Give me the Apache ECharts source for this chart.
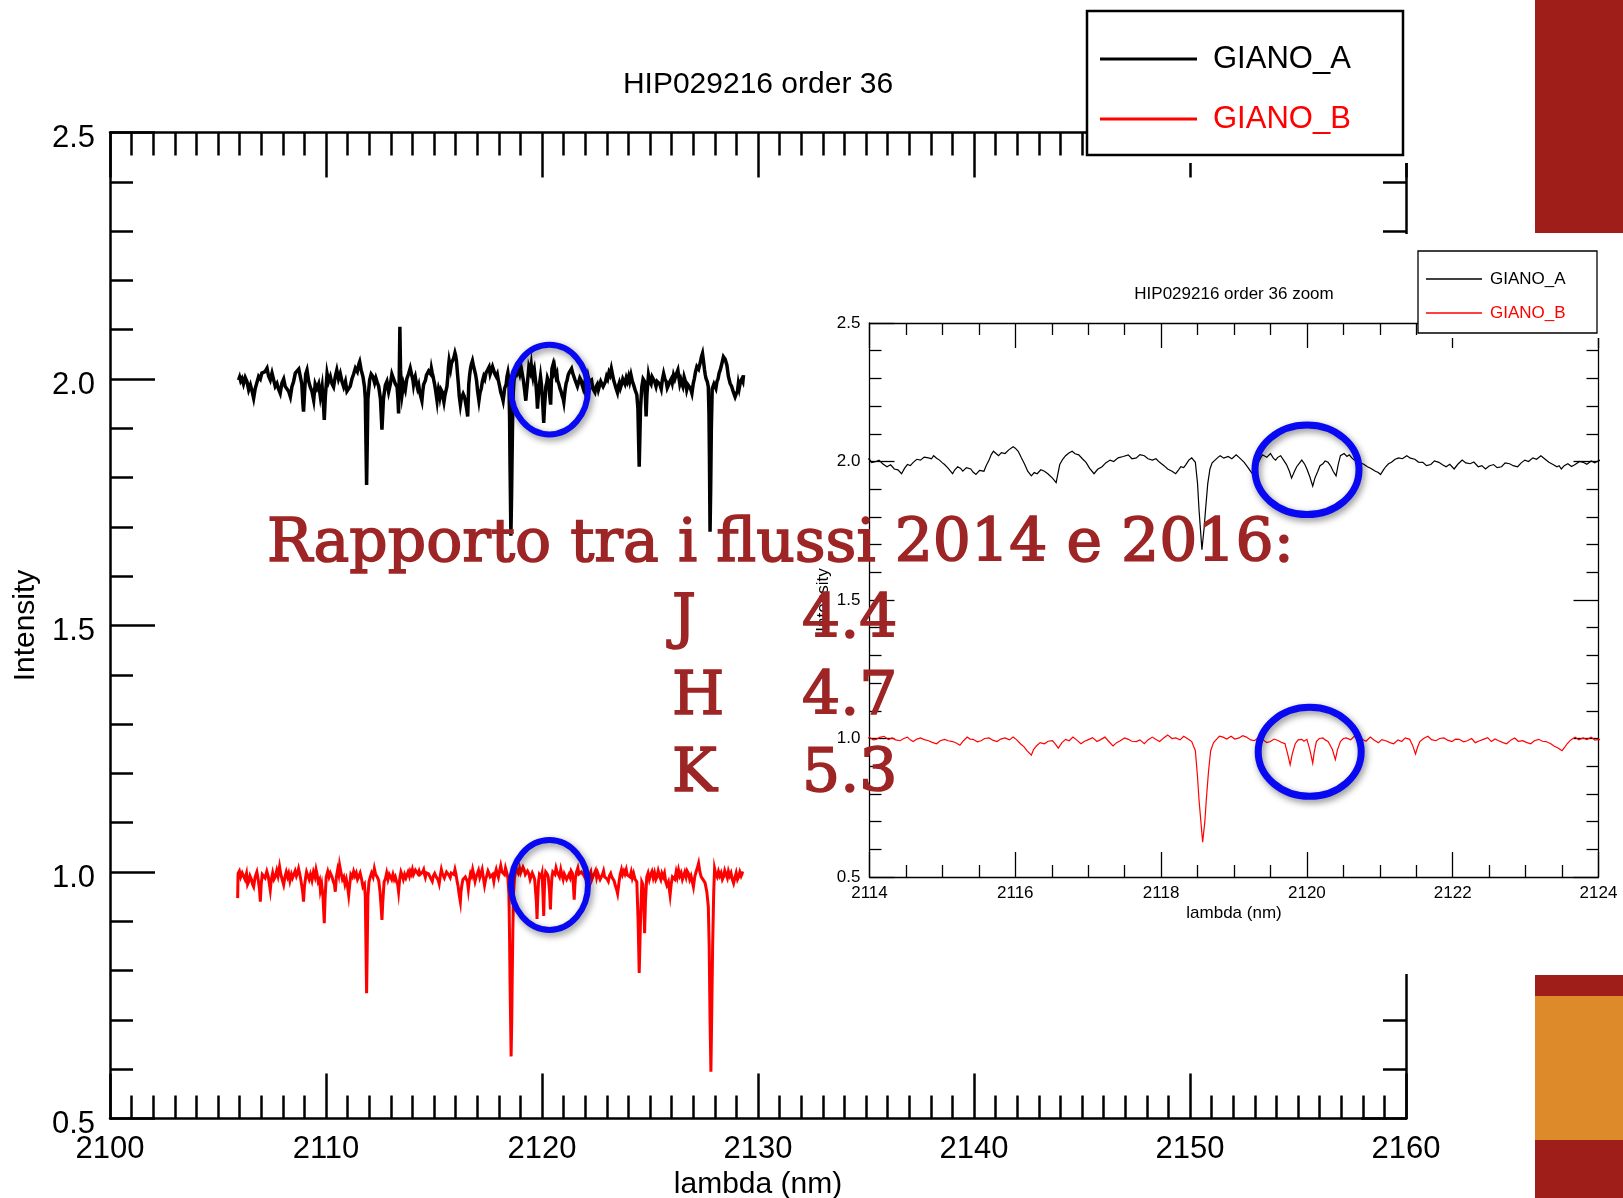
<!DOCTYPE html>
<html>
<head>
<meta charset="utf-8">
<script src="https://cdn.jsdelivr.net/npm/echarts/dist/echarts.min.js"></script>
<style>
  html, body { margin: 0; padding: 0; background: #ffffff; }
  #chart { width: 1623px; height: 1198px; }
</style>
</head>
<body>
<div id="chart"></div>
<script>
// HIP029216, echelle order 36: GIANO_A spectrum (shifted to ~2.0) and GIANO_B spectrum (~1.0)
// Each pair is [wavelength in nm, intensity].
const gianoA = [
  [2105.95,1.998],[2106.00,2.004],[2106.05,1.996],[2106.11,2.001],[2106.18,1.990],[2106.26,2.003],
  [2106.34,1.995],[2106.42,1.978],[2106.50,1.988],[2106.58,1.975],[2106.65,1.961],[2106.72,1.980],
  [2106.80,1.984],[2106.88,2.005],[2106.96,2.000],[2107.03,2.012],[2107.10,2.008],[2107.18,2.015],
  [2107.27,2.022],[2107.34,2.006],[2107.42,1.998],[2107.50,2.012],[2107.58,2.008],[2107.65,1.985],
  [2107.73,1.991],[2107.80,1.980],[2107.88,1.971],[2107.96,1.992],[2108.04,2.000],[2108.11,1.985],
  [2108.19,1.988],[2108.27,1.975],[2108.35,1.964],[2108.42,1.984],[2108.50,1.995],[2108.58,2.012],
  [2108.66,2.011],[2108.74,2.020],[2108.81,2.018],[2108.88,1.990],[2108.93,1.950],[2108.96,1.934],
  [2109.01,1.975],[2109.06,2.010],[2109.12,2.018],[2109.20,1.995],[2109.27,1.984],[2109.35,1.975],
  [2109.43,1.957],[2109.50,1.990],[2109.58,1.981],[2109.66,1.990],[2109.74,1.964],[2109.82,1.985],
  [2109.88,1.950],[2109.92,1.917],[2109.97,1.965],[2110.05,2.011],[2110.12,1.995],[2110.20,2.005],
  [2110.28,1.990],[2110.35,1.984],[2110.43,2.005],[2110.50,2.018],[2110.58,2.000],[2110.66,2.011],
  [2110.74,1.995],[2110.82,1.984],[2110.90,1.995],[2110.97,1.975],[2111.05,1.971],[2111.12,1.985],
  [2111.20,2.000],[2111.28,2.010],[2111.36,2.022],[2111.45,2.015],[2111.52,2.030],[2111.56,2.035],
  [2111.63,2.018],[2111.71,2.005],[2111.78,1.985],[2111.82,1.960],[2111.85,1.870],[2111.88,1.785],
  [2111.91,1.870],[2111.94,1.960],[2112.02,1.998],[2112.09,2.010],[2112.17,2.005],[2112.25,1.992],
  [2112.31,2.002],[2112.36,1.995],[2112.44,1.985],[2112.52,1.960],[2112.59,1.897],[2112.66,1.960],
  [2112.75,1.988],[2112.82,1.995],[2112.90,1.974],[2112.98,1.990],[2113.05,2.010],[2113.13,2.000],
  [2113.21,1.990],[2113.29,1.984],[2113.33,1.960],[2113.36,1.930],[2113.39,2.000],[2113.42,2.106],
  [2113.45,2.020],[2113.48,1.990],[2113.52,1.968],[2113.59,1.990],[2113.67,1.978],[2113.74,2.000],
  [2113.82,2.010],[2113.90,2.022],[2113.95,2.012],
  [2114.00,2.008],[2114.03,1.996],[2114.05,1.989],[2114.09,2.000],[2114.13,2.005],[2114.18,1.992],
  [2114.24,1.981],[2114.29,1.988],[2114.34,1.973],[2114.39,1.970],[2114.44,1.956],[2114.48,1.975],
  [2114.52,1.989],[2114.56,1.985],[2114.60,1.997],[2114.65,2.008],[2114.70,2.005],[2114.75,2.016],
  [2114.81,2.013],[2114.85,2.010],[2114.88,2.021],[2114.92,2.012],[2114.96,2.005],[2115.00,1.995],
  [2115.03,1.989],[2115.08,1.975],[2115.14,1.956],[2115.17,1.970],[2115.21,1.981],[2115.25,1.975],
  [2115.28,1.965],[2115.33,1.978],[2115.39,1.973],[2115.42,1.962],[2115.46,1.953],[2115.51,1.968],
  [2115.57,1.965],[2115.60,1.985],[2115.64,2.005],[2115.67,2.025],[2115.70,2.037],[2115.74,2.028],
  [2115.77,2.021],[2115.81,2.032],[2115.86,2.029],[2115.91,2.042],[2115.97,2.053],[2116.00,2.048],
  [2116.04,2.037],[2116.08,2.015],[2116.13,1.989],[2116.17,1.965],[2116.22,1.948],[2116.26,1.960],
  [2116.30,1.956],[2116.35,1.970],[2116.40,1.965],[2116.45,1.955],[2116.51,1.940],[2116.56,1.924],
  [2116.61,1.989],[2116.65,2.008],[2116.69,2.021],[2116.73,2.030],[2116.78,2.037],[2116.82,2.028],
  [2116.87,2.024],[2116.92,2.010],[2116.97,1.997],[2117.02,1.975],[2117.08,1.956],[2117.13,1.972],
  [2117.19,1.981],[2117.24,1.995],[2117.30,2.005],[2117.35,2.000],[2117.41,2.013],[2117.48,2.018],
  [2117.55,2.024],[2117.60,2.010],[2117.66,2.013],[2117.71,2.025],[2117.77,2.021],[2117.82,2.010],
  [2117.88,2.005],[2117.93,2.010],[2117.98,1.997],[2118.04,1.985],[2118.09,1.973],[2118.15,1.965],
  [2118.20,1.956],[2118.24,1.970],[2118.27,1.981],[2118.31,1.978],[2118.34,1.989],[2118.38,2.005],
  [2118.42,2.013],[2118.47,1.997],[2118.50,1.920],[2118.52,1.827],[2118.56,1.682],[2118.59,1.760],
  [2118.61,1.827],[2118.64,1.920],[2118.67,1.973],[2118.70,1.995],[2118.74,2.005],[2118.78,2.015],
  [2118.81,2.021],[2118.86,2.012],[2118.92,2.018],[2118.97,2.010],[2119.03,2.024],[2119.08,2.012],
  [2119.14,1.997],[2119.20,1.975],[2119.25,1.956],[2119.28,1.972],[2119.32,1.989],[2119.36,2.010],
  [2119.39,2.024],[2119.45,2.015],[2119.50,2.029],[2119.54,2.012],[2119.57,2.005],[2119.60,2.015],
  [2119.64,2.021],[2119.68,2.005],[2119.72,1.989],[2119.76,1.965],[2119.79,1.940],[2119.83,1.965],
  [2119.86,1.981],[2119.90,1.995],[2119.93,2.005],[2119.97,1.990],[2120.00,1.973],[2120.04,1.945],
  [2120.08,1.911],[2120.11,1.940],[2120.15,1.965],[2120.18,1.985],[2120.22,1.992],[2120.25,2.002],
  [2120.29,1.997],[2120.33,1.982],[2120.36,1.965],[2120.40,1.948],[2120.43,1.990],[2120.46,2.021],
  [2120.51,2.029],[2120.55,2.018],[2120.58,2.024],[2120.62,2.012],[2120.65,2.005],[2120.69,2.010],
  [2120.72,1.997],[2120.78,1.990],[2120.83,1.981],[2120.88,1.975],[2120.94,1.965],[2120.98,1.960],
  [2121.01,1.953],[2121.05,1.970],[2121.08,1.981],[2121.12,1.992],[2121.16,1.997],[2121.21,2.008],
  [2121.26,2.013],[2121.31,2.010],[2121.37,2.021],[2121.42,2.012],[2121.48,2.008],[2121.53,1.998],
  [2121.59,1.997],[2121.64,1.985],[2121.70,1.989],[2121.75,2.002],[2121.81,1.997],[2121.86,1.988],
  [2121.91,1.981],[2121.96,1.990],[2122.02,1.973],[2122.07,1.990],[2122.13,2.005],[2122.18,1.995],
  [2122.24,1.992],[2122.29,1.998],[2122.35,1.981],[2122.40,1.985],[2122.45,1.973],[2122.50,1.984],
  [2122.56,1.989],[2122.61,1.978],[2122.67,1.981],[2122.72,1.995],[2122.78,1.992],[2122.83,1.985],
  [2122.89,1.981],[2122.94,1.995],[2122.99,2.005],[2123.04,2.000],[2123.10,2.013],[2123.15,2.008],
  [2123.21,2.021],[2123.26,2.010],[2123.32,1.997],[2123.37,1.990],[2123.43,1.981],[2123.46,1.985],
  [2123.49,1.973],[2123.53,1.985],[2123.58,1.992],[2123.63,1.982],[2123.68,1.989],[2123.74,2.000],
  [2123.79,1.997],[2123.84,1.990],[2123.90,2.002],[2123.95,1.995],[2124.01,2.005],
  [2124.06,1.995],[2124.12,2.008],[2124.18,1.996],[2124.24,1.988],[2124.31,1.978],[2124.39,1.968],
  [2124.44,1.940],[2124.47,1.880],[2124.50,1.822],[2124.53,1.880],[2124.56,1.940],[2124.62,1.984],
  [2124.68,2.000],[2124.75,1.995],[2124.79,1.960],[2124.82,1.924],[2124.86,1.970],[2124.93,2.008],
  [2124.99,1.995],[2125.05,1.990],[2125.10,2.004],[2125.16,2.008],[2125.22,1.994],[2125.28,1.985],
  [2125.33,1.995],[2125.39,1.998],[2125.45,1.990],[2125.52,1.980],[2125.57,1.998],[2125.63,2.011],
  [2125.69,2.000],[2125.75,1.995],[2125.80,1.982],[2125.86,1.988],[2125.92,1.995],[2125.98,2.000],
  [2126.03,1.992],[2126.09,2.008],[2126.15,2.000],[2126.22,2.010],[2126.29,2.018],[2126.33,2.005],
  [2126.38,1.990],[2126.43,1.998],[2126.47,1.991],[2126.52,1.985],[2126.58,2.004],[2126.64,1.995],
  [2126.70,1.978],[2126.76,1.988],[2126.82,1.990],[2126.88,1.980],[2126.94,1.971],[2127.00,1.990],
  [2127.05,2.000],[2127.11,2.015],[2127.17,2.025],[2127.25,2.020],[2127.32,2.032],[2127.38,2.045],
  [2127.43,2.052],[2127.48,2.035],[2127.52,2.020],[2127.56,2.008],[2127.60,2.000],[2127.65,1.995],
  [2127.70,1.984],[2127.73,1.930],[2127.75,1.850],[2127.78,1.690],[2127.81,1.780],[2127.84,1.900],
  [2127.88,1.980],[2127.96,1.990],[2128.05,1.981],[2128.10,1.995],[2128.15,2.000],[2128.20,2.012],
  [2128.25,2.018],[2128.32,2.030],[2128.40,2.045],[2128.44,2.048],[2128.48,2.040],[2128.56,2.028],
  [2128.63,2.005],[2128.71,1.991],[2128.78,1.985],[2128.85,1.975],[2128.94,1.964],[2128.99,1.970],
  [2129.05,1.975],[2129.09,1.990],[2129.13,1.981],[2129.19,1.995],[2129.25,2.000],[2129.30,1.995],
  [2129.33,2.008]
];

const gianoB = [
  [2105.91,0.947],[2105.93,0.997],[2105.99,1.002],[2106.05,0.990],[2106.12,0.998],[2106.19,0.994],
  [2106.25,0.985],[2106.32,0.997],[2106.37,0.975],[2106.42,0.980],[2106.48,0.992],[2106.55,0.985],
  [2106.60,0.975],[2106.65,0.970],[2106.72,0.990],[2106.80,1.000],[2106.86,0.985],[2106.92,0.965],
  [2106.96,0.940],[2107.00,0.975],[2107.05,0.995],[2107.11,0.997],[2107.18,0.988],[2107.26,1.001],
  [2107.33,0.990],[2107.38,0.975],[2107.42,0.963],[2107.47,0.985],[2107.53,0.998],[2107.59,0.985],
  [2107.65,0.990],[2107.72,1.003],[2107.78,0.992],[2107.85,1.011],[2107.91,0.995],[2107.97,0.985],
  [2108.04,0.974],[2108.10,0.990],[2108.16,1.000],[2108.22,0.990],[2108.27,0.997],[2108.33,0.982],
  [2108.40,0.995],[2108.45,0.988],[2108.50,0.987],[2108.57,1.002],[2108.63,0.992],[2108.68,0.998],
  [2108.73,1.007],[2108.79,0.995],[2108.84,0.983],[2108.92,0.960],[2108.96,0.940],[2109.00,0.970],
  [2109.06,0.990],[2109.10,1.000],[2109.15,0.997],[2109.22,0.985],[2109.28,0.995],[2109.35,0.983],
  [2109.42,1.000],[2109.49,0.990],[2109.54,1.005],[2109.58,0.997],[2109.64,0.980],[2109.70,0.985],
  [2109.74,0.963],[2109.80,0.975],[2109.86,0.950],[2109.92,0.896],[2109.96,0.950],[2110.01,0.990],
  [2110.08,1.001],[2110.14,0.990],[2110.20,0.998],[2110.28,0.990],[2110.34,0.980],[2110.39,0.975],
  [2110.43,0.960],[2110.48,0.990],[2110.54,1.005],[2110.59,0.995],[2110.63,1.014],[2110.69,1.000],
  [2110.76,0.985],[2110.82,0.990],[2110.88,0.975],[2110.94,0.985],[2111.00,0.970],[2111.05,0.953],
  [2111.10,0.975],[2111.15,0.995],[2111.22,0.990],[2111.28,1.001],[2111.34,0.992],[2111.40,0.998],
  [2111.46,0.985],[2111.51,0.990],[2111.58,0.998],[2111.65,0.985],[2111.71,0.970],[2111.78,0.975],
  [2111.82,0.950],[2111.85,0.850],[2111.88,0.754],[2111.91,0.850],[2111.94,0.950],[2111.99,0.980],
  [2112.05,0.990],[2112.11,0.998],[2112.18,0.990],[2112.24,1.007],[2112.30,0.995],[2112.37,0.990],
  [2112.44,0.983],[2112.50,0.960],[2112.55,0.930],[2112.59,0.903],[2112.63,0.940],[2112.69,0.980],
  [2112.75,0.986],[2112.81,0.998],[2112.87,0.985],[2112.93,0.995],[2112.98,0.997],[2113.04,0.985],
  [2113.10,0.995],[2113.16,0.985],[2113.21,0.990],[2113.27,0.980],[2113.32,0.975],[2113.36,0.960],
  [2113.41,0.985],[2113.47,1.000],[2113.52,0.994],[2113.58,0.985],[2113.64,0.995],[2113.70,0.988],
  [2113.75,0.987],[2113.80,1.000],[2113.86,0.992],[2113.90,1.001],[2113.95,0.996],
  [2114.00,1.005],[2114.05,0.995],[2114.09,0.997],[2114.14,1.004],[2114.20,1.008],[2114.26,0.996],
  [2114.31,1.002],[2114.36,0.995],[2114.42,0.992],[2114.47,1.000],[2114.52,1.005],[2114.56,0.995],
  [2114.60,0.989],[2114.65,0.998],[2114.70,1.002],[2114.75,0.996],[2114.81,0.992],[2114.86,0.986],
  [2114.92,0.981],[2114.97,0.992],[2115.03,0.997],[2115.08,0.992],[2115.14,0.989],[2115.19,0.984],
  [2115.24,0.976],[2115.29,0.992],[2115.34,1.005],[2115.38,0.998],[2115.42,0.997],[2115.48,0.988],
  [2115.53,0.992],[2115.58,1.000],[2115.64,1.002],[2115.69,0.994],[2115.75,0.989],[2115.80,0.998],
  [2115.86,1.002],[2115.92,0.995],[2115.97,1.005],[2116.02,0.995],[2116.07,0.981],[2116.12,0.970],
  [2116.16,0.956],[2116.22,0.940],[2116.25,0.960],[2116.29,0.973],[2116.34,0.985],[2116.40,0.981],
  [2116.45,0.990],[2116.51,0.992],[2116.55,0.980],[2116.59,0.965],[2116.64,0.985],[2116.69,0.997],
  [2116.74,0.992],[2116.79,1.005],[2116.84,0.995],[2116.90,0.981],[2116.95,0.990],[2117.01,0.997],
  [2117.06,1.003],[2117.12,0.989],[2117.17,0.996],[2117.23,1.005],[2117.28,0.990],[2117.34,0.973],
  [2117.39,0.985],[2117.44,0.992],[2117.50,1.002],[2117.55,0.997],[2117.60,0.990],[2117.66,0.989],
  [2117.71,0.995],[2117.77,0.981],[2117.82,0.995],[2117.88,1.005],[2117.93,0.996],[2117.98,0.989],
  [2118.04,1.003],[2118.09,1.013],[2118.15,1.000],[2118.20,1.002],[2118.26,0.995],[2118.31,1.008],
  [2118.37,0.998],[2118.42,0.989],[2118.47,0.956],[2118.50,0.860],[2118.52,0.779],[2118.57,0.626],
  [2118.60,0.700],[2118.62,0.779],[2118.65,0.880],[2118.68,0.956],[2118.72,0.985],[2118.76,0.997],
  [2118.80,1.008],[2118.85,1.005],[2118.90,0.998],[2118.96,1.008],[2119.01,0.998],[2119.07,1.002],
  [2119.12,1.010],[2119.17,1.005],[2119.23,0.995],[2119.28,0.992],[2119.33,1.002],[2119.39,0.997],
  [2119.45,0.985],[2119.50,0.989],[2119.55,0.998],[2119.61,0.992],[2119.66,0.985],[2119.70,0.981],
  [2119.74,0.940],[2119.77,0.905],[2119.80,0.945],[2119.84,0.981],[2119.88,0.995],[2119.93,0.997],
  [2119.96,0.990],[2120.00,0.997],[2120.04,0.960],[2120.08,0.911],[2120.10,0.950],[2120.13,0.989],
  [2120.17,1.000],[2120.22,1.002],[2120.25,0.995],[2120.29,0.989],[2120.35,0.960],[2120.39,0.924],
  [2120.42,0.960],[2120.46,0.989],[2120.50,1.000],[2120.54,1.002],[2120.60,0.995],[2120.65,1.008],
  [2120.70,1.000],[2120.76,0.997],[2120.81,0.990],[2120.87,1.005],[2120.92,0.995],[2120.98,0.985],
  [2121.03,0.996],[2121.08,0.992],[2121.14,0.985],[2121.19,0.981],[2121.25,0.995],[2121.30,0.989],
  [2121.35,1.002],[2121.41,0.997],[2121.45,0.975],[2121.49,0.944],[2121.52,0.970],[2121.55,0.989],
  [2121.60,1.000],[2121.66,1.008],[2121.71,0.996],[2121.77,0.992],[2121.82,1.000],[2121.88,1.002],
  [2121.93,0.994],[2121.99,0.989],[2122.04,0.998],[2122.09,0.997],[2122.15,0.988],[2122.20,0.992],
  [2122.26,1.000],[2122.31,0.985],[2122.37,0.992],[2122.42,0.997],[2122.48,1.003],[2122.53,0.989],
  [2122.58,0.998],[2122.63,0.992],[2122.69,0.985],[2122.74,0.981],[2122.80,0.995],[2122.85,1.002],
  [2122.90,0.990],[2122.96,0.992],[2123.01,0.986],[2123.07,0.981],[2123.12,0.992],[2123.18,0.997],
  [2123.23,0.990],[2123.28,0.989],[2123.34,0.982],[2123.39,0.973],[2123.45,0.965],[2123.50,0.956],
  [2123.54,0.970],[2123.57,0.981],[2123.62,0.995],[2123.68,1.005],[2123.73,0.995],[2123.79,1.002],
  [2123.84,0.996],[2123.90,1.005],[2123.95,0.994],[2124.01,0.997],
  [2124.07,0.990],[2124.13,1.000],[2124.18,0.988],[2124.24,0.997],[2124.31,0.985],[2124.39,0.980],
  [2124.45,0.900],[2124.50,0.795],[2124.56,0.900],[2124.62,0.980],[2124.67,0.975],[2124.71,0.940],
  [2124.75,0.876],[2124.79,0.940],[2124.85,0.990],[2124.91,0.998],[2124.97,0.985],[2125.03,0.995],
  [2125.09,1.001],[2125.15,0.988],[2125.21,0.998],[2125.27,0.985],[2125.32,0.990],[2125.38,1.002],
  [2125.44,0.992],[2125.50,0.985],[2125.55,0.997],[2125.61,0.990],[2125.67,0.998],[2125.73,0.980],
  [2125.78,0.973],[2125.85,0.980],[2125.93,0.953],[2125.98,0.975],[2126.04,0.990],[2126.09,0.994],
  [2126.15,0.985],[2126.21,1.000],[2126.26,0.990],[2126.32,1.004],[2126.38,0.992],[2126.44,0.998],
  [2126.50,0.985],[2126.55,0.987],[2126.61,1.000],[2126.67,0.990],[2126.72,1.002],[2126.78,0.997],
  [2126.84,0.985],[2126.90,0.992],[2126.96,0.980],[2127.01,0.970],[2127.07,0.990],[2127.13,1.000],
  [2127.19,1.008],[2127.25,1.018],[2127.31,1.000],[2127.37,0.990],[2127.43,0.992],[2127.48,0.983],
  [2127.55,0.978],[2127.63,0.960],[2127.70,0.930],[2127.74,0.850],[2127.78,0.700],[2127.82,0.595],
  [2127.86,0.720],[2127.90,0.850],[2127.95,0.960],[2127.99,1.007],[2128.05,0.995],[2128.11,0.990],
  [2128.17,1.001],[2128.23,0.992],[2128.29,0.998],[2128.35,0.985],[2128.40,0.990],[2128.46,1.003],
  [2128.52,0.995],[2128.58,0.988],[2128.63,1.001],[2128.69,0.992],[2128.75,0.998],[2128.81,0.985],
  [2128.87,0.977],[2128.93,0.988],[2128.99,0.998],[2129.05,0.985],[2129.10,0.990],[2129.16,1.000],
  [2129.22,0.992],[2129.28,0.998],[2129.33,0.997]
];

// Axis ranges: [min, max, major interval, minor divisions]
const mainLambda = [2100, 2160, 10, 10];
const mainIntensity = [0.5, 2.5, 0.5, 5];
const zoomLambda = [2114, 2124, 2, 4];
const zoomIntensity = [0.5, 2.5, 0.5, 5];

const seriesNames = ['GIANO_A', 'GIANO_B'];
const seriesColors = ['#000000', '#ff0000'];

// Band flux ratios between the 2014 and 2016 epochs
const ratioTitle = 'Rapporto tra i flussi 2014 e 2016:';
const bands = ['J', 'H', 'K'];
const fluxRatios = ['4.4', '4.7', '5.3'];

const SANS = '"Liberation Sans", Arial, Helvetica, sans-serif';
const SLAB = '"DejaVu Serif", serif';
const NOTE_RED = '#9E2525';
const CIRCLE_BLUE = '#0808F2';

function frameAxes(gridIndex, xr, yr, s) {
  const line = { color: '#000', width: s.lineW };
  const common = {
    type: 'value', gridIndex: gridIndex, z: s.z,
    splitLine: { show: false }, minorSplitLine: { show: false },
    axisLine: { show: true, onZero: false, lineStyle: line }
  };
  const xBase = Object.assign({}, common, {
    min: xr[0], max: xr[1], interval: xr[2],
    axisTick: { show: true, inside: true, length: s.tick, lineStyle: line },
    minorTick: { show: true, splitNumber: xr[3], length: s.minor, lineStyle: line }
  });
  const yBase = Object.assign({}, common, {
    min: yr[0], max: yr[1], interval: yr[2],
    axisTick: { show: true, inside: true, length: s.tick, lineStyle: line },
    minorTick: { show: true, splitNumber: yr[3], length: s.minor, lineStyle: line }
  });
  const xs = [
    Object.assign({}, xBase, {
      position: 'bottom',
      name: 'lambda (nm)', nameLocation: 'middle', nameGap: s.xNameGap,
      nameTextStyle: { fontFamily: SANS, fontSize: s.nameSize, color: '#000' },
      axisLabel: { show: true, margin: s.xLabelMargin, fontFamily: SANS, fontSize: s.labelSize,
                   color: '#000', formatter: v => String(Math.round(v)) }
    }),
    Object.assign({}, xBase, { position: 'top', axisLabel: { show: false } })
  ];
  const yLabel = { show: true, margin: s.yLabelMargin, fontFamily: SANS, fontSize: s.labelSize,
                   color: '#000', formatter: v => v.toFixed(1) };
  if (s.yLabelDrop) {
    // labels sit a little below their tick
    yLabel.verticalAlign = 'top';
    yLabel.lineHeight = s.yLabelDrop;
  }
  const ys = [
    Object.assign({}, yBase, {
      position: 'left',
      name: 'Intensity', nameLocation: 'middle', nameGap: s.yNameGap,
      nameTextStyle: { fontFamily: SANS, fontSize: s.nameSize, color: '#000' },
      axisLabel: yLabel
    }),
    Object.assign({}, yBase, { position: 'right', axisLabel: { show: false } })
  ];
  return { xs: xs, ys: ys };
}

const mainAxes = frameAxes(0, mainLambda, mainIntensity, {
  z: 0, lineW: 2.5, tick: 45, minor: 23, labelSize: 31, nameSize: 30,
  xLabelMargin: 15, yLabelMargin: 15, yLabelDrop: 12, xNameGap: 48, yNameGap: 68
});
const zoomAxes = frameAxes(1, zoomLambda, zoomIntensity, {
  z: 6, lineW: 1.3, tick: 25, minor: 12, labelSize: 17, nameSize: 17,
  xLabelMargin: 8, yLabelMargin: 9, yLabelDrop: 0, xNameGap: 28, yNameGap: 38
});

function spectrum(name, data, color, width, axisIdx, z) {
  return {
    type: 'line', name: name, data: data,
    xAxisIndex: axisIdx, yAxisIndex: axisIdx,
    showSymbol: false, symbol: 'none', clip: true, silent: true, z: z,
    lineStyle: { color: color, width: width, join: 'miter' },
    itemStyle: { color: color }
  };
}

function legendData() {
  return seriesNames.map((n, i) => ({ name: n, textStyle: { color: seriesColors[i] } }));
}

function circle(cx, cy, rx, ry, w) {
  return {
    type: 'ellipse', z: 30, silent: true,
    shape: { cx: cx, cy: cy, rx: rx, ry: ry },
    style: {
      fill: 'none', stroke: CIRCLE_BLUE, lineWidth: w,
      shadowBlur: 7, shadowColor: 'rgba(0,0,0,0.45)', shadowOffsetX: 2, shadowOffsetY: 3
    }
  };
}

function note(text, x, y) {
  return {
    type: 'text', z: 31, silent: true, x: x, y: y,
    style: { text: text, font: '60px ' + SLAB, fill: NOTE_RED,
             stroke: NOTE_RED, lineWidth: 1.6,
             align: 'left', verticalAlign: 'bottom' }
  };
}

const graphics = [
  // slide decoration blocks on the right edge
  { type: 'rect', z: 1, silent: true, shape: { x: 1535, y: 0, width: 88, height: 233 }, style: { fill: '#A01E1A' } },
  { type: 'rect', z: 1, silent: true, shape: { x: 1535, y: 975, width: 88, height: 21 }, style: { fill: '#A01E1A' } },
  { type: 'rect', z: 1, silent: true, shape: { x: 1535, y: 996, width: 88, height: 144 }, style: { fill: '#DC8A2A' } },
  { type: 'rect', z: 1, silent: true, shape: { x: 1535, y: 1140, width: 88, height: 58 }, style: { fill: '#A01E1A' } },
  // legend panel of the full-order plot
  { type: 'rect', z: 3, silent: true, shape: { x: 1087, y: 0, width: 329, height: 163 }, style: { fill: '#fff' } },
  { type: 'rect', z: 4, silent: true, shape: { x: 1087, y: 11, width: 316, height: 144 },
    style: { fill: '#fff', stroke: '#000', lineWidth: 2.5 } },
  // panel holding the zoomed plot
  { type: 'rect', z: 5, silent: true, shape: { x: 790, y: 234, width: 833, height: 740 }, style: { fill: '#fff' } },
  { type: 'rect', z: 8, silent: true, shape: { x: 1418, y: 249, width: 185, height: 89 }, style: { fill: '#fff' } },
  { type: 'rect', z: 9, silent: true, shape: { x: 1418, y: 251, width: 179, height: 82 },
    style: { fill: '#fff', stroke: '#000', lineWidth: 1.3 } },
  // highlighted line groups
  circle(549.5, 389.6, 38.5, 44.8, 6),
  circle(549.5, 885, 38.5, 45, 6),
  circle(1307, 469.8, 52, 44.8, 7),
  circle(1309.7, 751.8, 51.5, 44.5, 7),
  // flux ratio note
  note(ratioTitle, 267, 575)
];
bands.forEach((b, i) => {
  graphics.push(note(b, 672, 651 + i * 77));
  graphics.push(note(fluxRatios[i], 802, 651 + i * 77));
});

const option = {
  backgroundColor: '#ffffff',
  animation: false,
  title: [
    { text: 'HIP029216 order 36', left: 758, top: 70, padding: 0, textAlign: 'center', z: 2,
      textStyle: { fontFamily: SANS, fontSize: 30, fontWeight: 'normal', color: '#000' } },
    { text: 'HIP029216 order 36 zoom', left: 1234, top: 286, padding: 0, textAlign: 'center', z: 8,
      textStyle: { fontFamily: SANS, fontSize: 17, fontWeight: 'normal', color: '#000' } }
  ],
  legend: [
    { orient: 'vertical', left: 1100, top: 41, padding: 0, z: 6, selectedMode: false,
      icon: 'rect', itemWidth: 97, itemHeight: 3, itemGap: 24,
      textStyle: { fontFamily: SANS, fontSize: 31, lineHeight: 36, padding: [0, 0, 0, 11] },
      data: legendData() },
    { orient: 'vertical', left: 1426, top: 269, padding: 0, z: 10, selectedMode: false,
      icon: 'rect', itemWidth: 56, itemHeight: 1.3, itemGap: 14,
      textStyle: { fontFamily: SANS, fontSize: 17, lineHeight: 20, padding: [0, 0, 0, 3] },
      data: legendData() }
  ],
  grid: [
    { left: 110, top: 132.5, width: 1296, height: 986, show: false,
      containLabel: false, outerBoundsMode: 'none' },
    { left: 869.5, top: 323, width: 729, height: 554, show: false,
      containLabel: false, outerBoundsMode: 'none' }
  ],
  xAxis: mainAxes.xs.concat(zoomAxes.xs),
  yAxis: mainAxes.ys.concat(zoomAxes.ys),
  series: [
    spectrum('GIANO_A', gianoA, seriesColors[0], 3.5, 0, 2),
    spectrum('GIANO_B', gianoB, seriesColors[1], 3, 0, 2),
    spectrum('GIANO_A', gianoA, seriesColors[0], 1.2, 2, 7),
    spectrum('GIANO_B', gianoB, seriesColors[1], 1.2, 2, 7)
  ],
  graphic: { elements: graphics }
};

const chart = echarts.init(document.getElementById('chart'), null, { renderer: 'canvas' });
chart.setOption(option);
</script>
</body>
</html>
